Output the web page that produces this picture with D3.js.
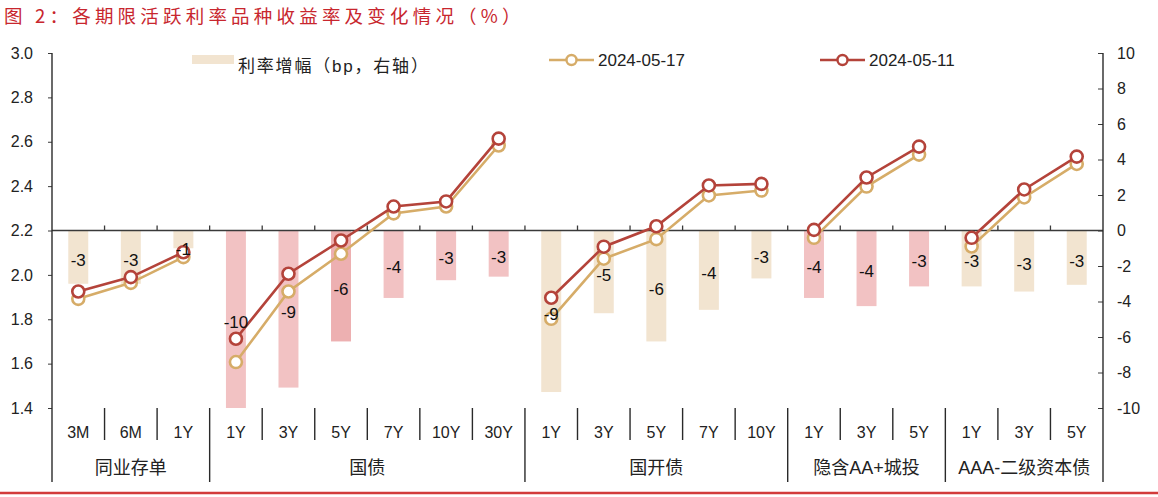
<!DOCTYPE html>
<html>
<head>
<meta charset="utf-8">
<script src="https://cdn.jsdelivr.net/npm/d3@7"></script>
<style>
  html, body { margin: 0; padding: 0; background: #fff; }
  svg { display: block; }
  text { font-family: "Liberation Sans", Arial, "Noto Sans CJK SC", sans-serif; }
</style>
</head>
<body>
<svg id="chart" width="1158" height="497"></svg>
<script>
// ---------------- data ----------------
const groups = ["同业存单", "国债", "国开债", "隐含AA+城投", "AAA-二级资本债"];
const terms = [
  ["3M", "6M", "1Y"],
  ["1Y", "3Y", "5Y", "7Y", "10Y", "30Y"],
  ["1Y", "3Y", "5Y", "7Y", "10Y"],
  ["1Y", "3Y", "5Y"],
  ["1Y", "3Y", "5Y"]
];
const yield0517 = [1.892, 1.964, 2.080, 1.607, 1.925, 2.095, 2.277, 2.308, 2.583,
                   1.802, 2.073, 2.161, 2.358, 2.380, 2.167, 2.398, 2.542, 2.128, 2.349, 2.500];
const yield0511 = [1.925, 1.990, 2.102, 1.712, 2.005, 2.155, 2.308, 2.331, 2.614,
                   1.897, 2.127, 2.219, 2.403, 2.410, 2.203, 2.439, 2.578, 2.167, 2.385, 2.533];
const changeBp  = [-3.0, -3.0, -1.0, -10.0, -8.85, -6.25, -3.8, -2.8, -2.6,
                   -9.1, -4.66, -6.25, -4.47, -2.7, -3.8, -4.26, -3.15, -3.15, -3.44, -3.06];
const leftTicks  = [1.4, 1.6, 1.8, 2.0, 2.2, 2.4, 2.6, 2.8, 3.0];
const rightTicks = [-10, -8, -6, -4, -2, 0, 2, 4, 6, 8, 10];
const seriesNames = ["利率增幅（bp，右轴）", "2024-05-17", "2024-05-11"];
const titleText = "图 2：各期限活跃利率品种收益率及变化情况（%）";

// ---------------- styles ----------------
const TAN_BAR = "#F2E4D0", PINK_BAR = "#F2C2C3", PINK_DARK = "#EDB0B1";
const TAN_LINE = "#D6AC68", RED_LINE = "#B4433A";
const groupBarColor = {"同业存单": TAN_BAR, "国债": PINK_BAR, "国开债": TAN_BAR, "隐含AA+城投": PINK_BAR, "AAA-二级资本债": TAN_BAR};
const highlightKey = "国债|5Y";
const hyphenInt = v => String(Math.round(v));

// flatten categories
const cats = [];
groups.forEach((g, gi) => terms[gi].forEach(t => cats.push({group: g, term: t, key: g + "|" + t})));
cats.forEach((c, i) => { c.y17 = yield0517[i]; c.y11 = yield0511[i]; c.bp = changeBp[i]; });

const svg = d3.select("#chart");
const L = 52, R = 1103, T = 53, B = 408;

const x = d3.scaleBand().domain(cats.map(c => c.key)).range([L, R]).padding(0);
const yL = d3.scaleLinear().domain([1.4, 3.0]).range([B, T]);
const yR = d3.scaleLinear().domain([-10, 10]).range([B, T]);
const cx = k => x(k) + x.bandwidth() / 2;
const barW = x.bandwidth() * 0.38;

// title
svg.append("text").attr("x", 4).attr("y", 22.5)
  .attr("fill", "#C8262E").attr("font-size", 18.5).attr("letter-spacing", 4.2)
  .style("font-family", "'Noto Sans CJK SC', sans-serif")
  .text(titleText);

// bars
svg.append("g").selectAll("rect").data(cats).join("rect")
  .attr("x", d => cx(d.key) - barW / 2)
  .attr("width", barW)
  .attr("y", d => Math.min(yR(0), yR(d.bp)))
  .attr("height", d => Math.abs(yR(d.bp) - yR(0)))
  .attr("fill", d => d.key === highlightKey ? PINK_DARK : groupBarColor[d.group]);

// horizontal category axis at 2.2 / 0
const y0 = yR(0);
svg.append("line").attr("x1", L).attr("x2", R).attr("y1", y0).attr("y2", y0)
  .attr("stroke", "#3a3a3a").attr("stroke-width", 1.3);
const bounds = cats.map(c => x(c.key)).concat([R]);
svg.append("g").selectAll("line").data(bounds.slice(1, -1)).join("line")
  .attr("x1", d => d).attr("x2", d => d).attr("y1", y0 - 5).attr("y2", y0)
  .attr("stroke", "#3a3a3a").attr("stroke-width", 1.3);

// left axis
const axL = svg.append("g").attr("transform", `translate(${L},0)`)
  .call(d3.axisLeft(yL).tickValues(leftTicks).tickFormat(d3.format(".1f")).tickSizeInner(4).tickSizeOuter(0).tickPadding(15));
axL.select(".domain").remove();
axL.selectAll("line").attr("stroke", "#3a3a3a");
axL.selectAll("text").attr("font-size", 16).attr("fill", "#222").style("font-family", "'Liberation Sans', Arial, sans-serif");

// right axis
const axR = svg.append("g").attr("transform", `translate(${R},0)`)
  .call(d3.axisRight(yR).tickValues(rightTicks).tickFormat(hyphenInt).tickSizeInner(-5).tickSizeOuter(0).tickPadding(14));
axR.select(".domain").remove();
axR.selectAll("line").attr("stroke", "#3a3a3a");
axR.selectAll("text").attr("font-size", 16).attr("fill", "#222").style("font-family", "'Liberation Sans', Arial, sans-serif");

// vertical axis lines (extend into the category table)
[L, R].forEach(px => svg.append("line").attr("x1", px).attr("x2", px).attr("y1", T).attr("y2", 482)
  .attr("stroke", "#2a2a2a").attr("stroke-width", 1.4));

// category separators & group separators
const groupStarts = new Set();
cats.forEach((c, i) => { if (i > 0 && cats[i - 1].group !== c.group) groupStarts.add(i); });
svg.append("g").selectAll("line").data(cats.slice(1).map((c, j) => ({i: j + 1, xpos: x(c.key)}))).join("line")
  .attr("x1", d => d.xpos).attr("x2", d => d.xpos)
  .attr("y1", B).attr("y2", d => groupStarts.has(d.i) ? 482 : 440)
  .attr("stroke", "#2a2a2a").attr("stroke-width", 1.4);

// category labels
svg.append("g").selectAll("text").data(cats).join("text")
  .attr("x", d => cx(d.key)).attr("y", 438).attr("text-anchor", "middle")
  .attr("font-size", 16).attr("fill", "#222").text(d => d.term);

// group labels
svg.append("g").selectAll("text").data(groups).join("text")
  .attr("x", g => {
    const cs = cats.filter(c => c.group === g);
    return (x(cs[0].key) + x(cs[cs.length - 1].key) + x.bandwidth()) / 2;
  })
  .attr("y", 474).attr("text-anchor", "middle").attr("font-size", 18).attr("fill", "#222")
  .text(g => g);

// lines
function drawSeries(key, color) {
  for (const g of groups) {
    const cs = cats.filter(c => c.group === g);
    const line = d3.line().x(d => cx(d.key)).y(d => yL(d[key]));
    svg.append("path").datum(cs).attr("d", line).attr("fill", "none")
      .attr("stroke", color).attr("stroke-width", 2.6);
  }
  svg.append("g").selectAll("circle").data(cats).join("circle")
    .attr("cx", d => cx(d.key)).attr("cy", d => yL(d[key])).attr("r", 6)
    .attr("fill", "#fff").attr("stroke", color).attr("stroke-width", 2.6);
}
drawSeries("y17", TAN_LINE);
drawSeries("y11", RED_LINE);

// bar labels
svg.append("g").selectAll("text").data(cats).join("text")
  .attr("x", d => cx(d.key)).attr("y", d => Math.max((yR(0) + yR(d.bp)) / 2 + 9, y0 + 24))
  .attr("text-anchor", "middle").attr("font-size", 17).attr("fill", "#111")
  .text(d => hyphenInt(d.bp));

// legend
const lg = svg.append("g");
lg.append("rect").attr("x", 192).attr("y", 55).attr("width", 42).attr("height", 9).attr("fill", TAN_BAR);
lg.append("text").attr("x", 238).attr("y", 72).attr("font-size", 17).attr("letter-spacing", 1.8).attr("fill", "#222").text(seriesNames[0]);
[[549, TAN_LINE, seriesNames[1]], [820, RED_LINE, seriesNames[2]]].forEach(([lx, col, name]) => {
  lg.append("line").attr("x1", lx).attr("x2", lx + 45).attr("y1", 60).attr("y2", 60).attr("stroke", col).attr("stroke-width", 2.6);
  lg.append("circle").attr("cx", lx + 22.5).attr("cy", 60).attr("r", 5).attr("fill", "#fff").attr("stroke", col).attr("stroke-width", 2.4);
  lg.append("text").attr("x", lx + 49).attr("y", 66).attr("font-size", 17).attr("fill", "#222").text(name);
});

// bottom red rule
svg.append("line").attr("x1", 0).attr("x2", 1158).attr("y1", 493).attr("y2", 493)
  .attr("stroke", "#D23B3B").attr("stroke-width", 2.4);
</script>
</body>
</html>
